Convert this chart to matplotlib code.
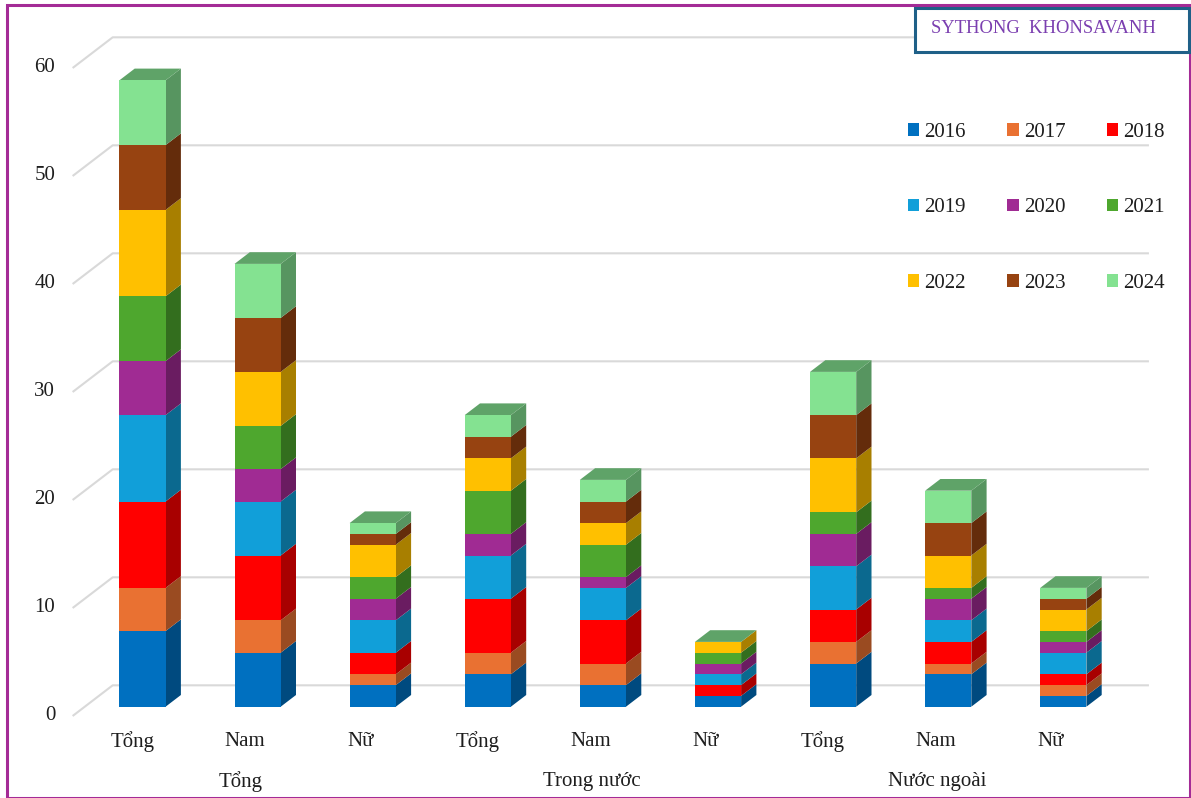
#!/usr/bin/env python3

import matplotlib
matplotlib.use('Agg')
import matplotlib.pyplot as plt
from matplotlib.colors import to_rgb
from matplotlib.patches import Rectangle

plt.rcParams['font.family'] = ['Liberation Serif', 'DejaVu Serif']

# values per year, one entry per bar
years = ['2016', '2017', '2018', '2019', '2020', '2021', '2022', '2023', '2024']
v2016 = [7, 5, 2, 3, 2, 1, 4, 3, 1]
v2017 = [4, 3, 1, 2, 2, 0, 2, 1, 1]
v2018 = [8, 6, 2, 5, 4, 1, 3, 2, 1]
v2019 = [8, 5, 3, 4, 3, 1, 4, 2, 2]
v2020 = [5, 3, 2, 2, 1, 1, 3, 2, 1]
v2021 = [6, 4, 2, 4, 3, 1, 2, 1, 1]
v2022 = [8, 5, 3, 3, 2, 1, 5, 3, 2]
v2023 = [6, 5, 1, 2, 2, 0, 4, 3, 1]
v2024 = [6, 5, 1, 2, 2, 0, 4, 3, 1]
series = [v2016, v2017, v2018, v2019, v2020, v2021, v2022, v2023, v2024]

colors = ['#0070C0', '#E97132', '#FF0000', '#119FD9', '#A02B93',
          '#4EA72E', '#FFC000', '#974311', '#84E291']

bar_labels = ['Tổng', 'Nam', 'Nữ', 'Tổng', 'Nam', 'Nữ', 'Tổng', 'Nam', 'Nữ']
group_labels = ['Tổng', 'Trong nước', 'Nước ngoài']
y_ticks = [0, 10, 20, 30, 40, 50, 60]

W, H = 1191, 798
PX_X = 115.1   # pixels per category
PX_Y = 10.8    # pixels per unit
X0, Y0 = 142.5, 706.7   # pixel position of category 0, value 0
TEXT = '#1E1E1E'


def shade(c, f):
    r, g, b = to_rgb(c)
    return (r * f, g * f, b * f)


fig = plt.figure(figsize=(W / 100, H / 100), dpi=100, facecolor='white')
ax = fig.add_axes([0, 0, 1, 1])
ax.set_xlim(-X0 / PX_X, (W - X0) / PX_X)
ax.set_ylim(-(H - Y0) / PX_Y, Y0 / PX_Y)
ax.axis('off')

bar_w = 46.2 / PX_X
dx = 15.3 / PX_X   # depth of the fake 3d bars
dy = 11.7 / PX_Y

# back wall gridlines with the slanted part on the left
for t in y_ticks:
    ax.plot([-0.607, -0.259, 8.744], [t - 0.86, t + 1.98, t + 1.98],
            color='#D9D9D9', lw=1.5, zorder=1, solid_capstyle='butt')
    ax.text(-0.759, t - 0.86, str(t), ha='right', va='center', fontsize=15,
            color=TEXT, zorder=5)

# stacked bars: front from ax.bar, side and top as polygons
xs = list(range(len(bar_labels)))
bottoms = [0] * len(xs)
handles = []
for vals, col in zip(series, colors):
    bars = ax.bar(xs, vals, width=bar_w, bottom=bottoms, color=col, zorder=3, linewidth=0)
    handles.append(bars[0])
    for x, v, b in zip(xs, vals, bottoms):
        r = x + bar_w / 2
        ax.fill([r, r + dx, r + dx, r], [b, b + dy, b + v + dy, b + v],
                color=shade(col, 0.66), lw=0, zorder=2.5)
    bottoms = [b + v for b, v in zip(bottoms, vals)]

# the roof always takes the colour of the last series
for x, top in zip(xs, bottoms):
    l, r = x - bar_w / 2, x + bar_w / 2
    ax.fill([l, r, r + dx, l + dx], [top, top, top + dy, top + dy],
            color=shade(colors[-1], 0.72), lw=0, zorder=2.5)

# category labels, set a little left of their bars
for x, lab in zip(xs, bar_labels):
    shift = 0.09 if lab == 'Tổng' else 0.108
    ax.text(x - shift, -3.2, lab, ha='center', va='center', fontsize=15, color=TEXT)
for x, lab in zip([0.85, 3.9, 6.9], group_labels):
    ax.text(x, -6.9, lab, ha='center', va='center', fontsize=15, color=TEXT)

# legend is filled column by column, so reorder to read across the rows
order = [0, 3, 6, 1, 4, 7, 2, 5, 8]
leg = ax.legend([handles[i] for i in order], [years[i] for i in order],
                ncol=3, frameon=False, prop={'size': 15},
                handlelength=0.55, handleheight=0.55, handletextpad=0.23,
                columnspacing=2.0, labelspacing=2.71, borderpad=0, borderaxespad=0,
                loc='upper left', bbox_to_anchor=(908 / W, 1 - 123 / H),
                labelcolor=TEXT)
leg.set_zorder(6)

# outer frame and the name box in the top corner
fig.add_artist(Rectangle((6.5 / W, 0), (W - 8) / W, (H - 4.5) / H,
                         transform=fig.transFigure, fill=False,
                         ec='#A42B96', lw=2.2))
fig.add_artist(Rectangle((914.5 / W, 1 - 52 / H), 274.5 / W, 43.5 / H,
                         transform=fig.transFigure, fc='white',
                         ec='#1F6088', lw=2.2))
fig.text(1043 / W, 1 - 28.5 / H, 'SYTHONG  KHONSAVANH', ha='center', va='center',
         fontsize=13.4, color='#7B3FB0')

fig.savefig('out.png', dpi=100)
